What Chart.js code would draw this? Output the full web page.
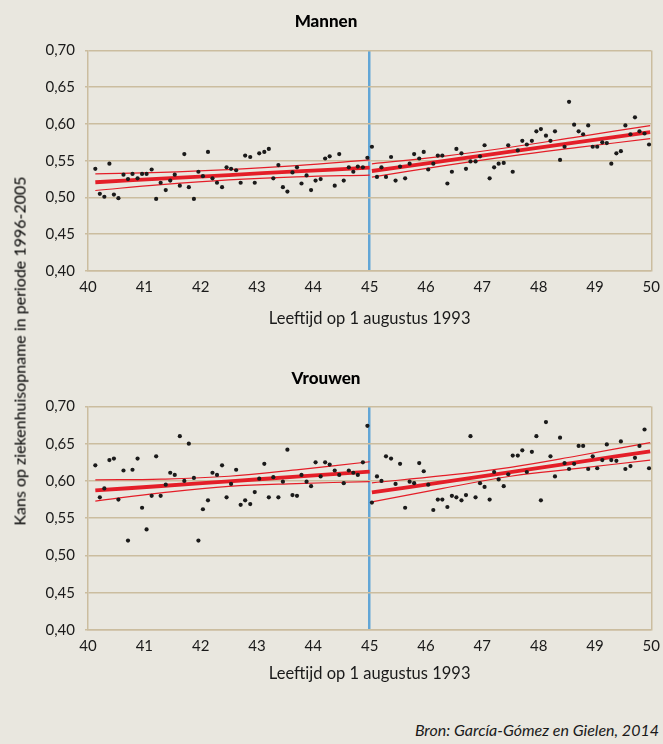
<!DOCTYPE html>
<html>
<head>
<meta charset="utf-8">
<script src="https://cdn.jsdelivr.net/npm/chart.js@4"></script>
<style>
  body { margin: 0; background: #e9e7df; }
  #wrap { position: relative; width: 663px; height: 744px; background: #e9e7df; }
  .box { position: absolute; left: 0; width: 663px; }
  #ytitle {
    position: absolute; left: 19px; top: 351px;
    transform: translate(-50%, -50%) rotate(-90deg);
    white-space: nowrap; font: 16px Lato, "Open Sans", sans-serif; color: #000;
  }
  #source {
    position: absolute; right: 4px; top: 720px;
    font: italic 16px Lato, "Open Sans", sans-serif; color: #1a1a1a;
  }
</style>
</head>
<body>
<div id="wrap">
  <div class="box" style="top:0;height:335px"><canvas id="men"></canvas></div>
  <div class="box" style="top:356px;height:334px"><canvas id="women"></canvas></div>
  <div id="ytitle">Kans op ziekenhuisopname in periode 1996-2005</div>
  <div id="source">Bron: García-Gómez en Gielen, 2014</div>
</div>
<script>
// leeftijd (jaren) per maandcohort
const ages = [
  40.13,40.21,40.29,40.38,40.46,40.54,40.63,40.71,40.79,40.88,40.96,41.04,
  41.13,41.21,41.29,41.38,41.46,41.54,41.63,41.71,41.79,41.88,41.96,42.04,
  42.13,42.21,42.29,42.38,42.46,42.54,42.63,42.71,42.79,42.88,42.96,43.04,
  43.13,43.21,43.29,43.38,43.46,43.54,43.63,43.71,43.79,43.88,43.96,44.04,
  44.13,44.21,44.29,44.38,44.46,44.54,44.63,44.71,44.79,44.88,44.96,45.04,
  45.13,45.21,45.29,45.38,45.46,45.54,45.63,45.71,45.79,45.88,45.96,46.04,
  46.13,46.21,46.29,46.38,46.46,46.54,46.63,46.71,46.79,46.88,46.96,47.04,
  47.13,47.21,47.29,47.38,47.46,47.54,47.63,47.71,47.79,47.88,47.96,48.04,
  48.13,48.21,48.29,48.38,48.46,48.54,48.63,48.71,48.79,48.88,48.96,49.04,
  49.13,49.21,49.29,49.38,49.46,49.54,49.63,49.71,49.79,49.88,49.96
];

const menRates = [
  0.539,0.505,0.501,0.546,0.504,0.499,0.531,0.525,0.532,0.526,0.532,0.532,
  0.538,0.498,0.520,0.510,0.523,0.531,0.516,0.559,0.514,0.498,0.535,0.529,
  0.562,0.526,0.520,0.514,0.541,0.539,0.537,0.520,0.557,0.555,0.520,0.560,
  0.562,0.566,0.526,0.544,0.514,0.508,0.534,0.541,0.519,0.530,0.510,0.523,
  0.525,0.553,0.556,0.516,0.559,0.523,0.541,0.535,0.542,0.541,0.554,0.569,
  0.528,0.541,0.528,0.555,0.523,0.542,0.526,0.546,0.559,0.553,0.562,0.538,
  0.546,0.557,0.557,0.519,0.535,0.566,0.560,0.539,0.549,0.549,0.556,0.571,
  0.526,0.541,0.546,0.547,0.571,0.535,0.564,0.577,0.572,0.577,0.590,0.593,
  0.584,0.577,0.590,0.551,0.569,0.630,0.599,0.590,0.586,0.598,0.569,0.569,
  0.575,0.574,0.546,0.560,0.563,0.598,0.586,0.609,0.590,0.587,0.572
];

const womenRates = [
  0.621,0.578,0.590,0.628,0.630,0.575,0.614,0.520,0.615,0.630,0.564,0.535,
  0.580,0.633,0.580,0.595,0.611,0.608,0.660,0.600,0.650,0.604,0.520,0.562,
  0.574,0.611,0.608,0.621,0.578,0.596,0.615,0.568,0.574,0.569,0.585,0.603,
  0.623,0.578,0.605,0.578,0.599,0.642,0.581,0.580,0.608,0.599,0.593,0.625,
  0.606,0.625,0.622,0.614,0.608,0.597,0.614,0.611,0.608,0.625,0.674,0.571,
  0.606,0.600,0.633,0.630,0.596,0.623,0.564,0.599,0.597,0.624,0.613,0.595,
  0.561,0.575,0.575,0.565,0.580,0.578,0.574,0.581,0.660,0.578,0.597,0.592,
  0.575,0.612,0.602,0.593,0.609,0.634,0.634,0.641,0.612,0.639,0.660,0.574,
  0.679,0.633,0.606,0.658,0.624,0.616,0.623,0.647,0.647,0.616,0.633,0.617,
  0.628,0.649,0.628,0.627,0.653,0.616,0.620,0.631,0.647,0.669,0.617
];

// regressielijnen met betrouwbaarheidsband, voor en na de grens van 45 jaar
const fitAgesBefore = [40.13, 41.3, 42.5, 43.7, 45.0];
const fitAgesAfter = [45.04, 46.3, 47.5, 48.7, 49.98];

const menFitBefore = [0.5207, 0.5256, 0.5305, 0.5354, 0.5405];
const menUpperBefore = [0.5322, 0.5340, 0.5378, 0.5432, 0.5510];
const menLowerBefore = [0.5095, 0.5175, 0.5240, 0.5280, 0.5305];
const menFitAfter = [0.5360, 0.5494, 0.5623, 0.5752, 0.5890];
const menUpperAfter = [0.5458, 0.5560, 0.5683, 0.5825, 0.5978];
const menLowerAfter = [0.5276, 0.5430, 0.5563, 0.5680, 0.5800];

const womenFitBefore = [0.5872, 0.5932, 0.5995, 0.6057, 0.6124];
const womenUpperBefore = [0.6014, 0.6024, 0.6063, 0.6149, 0.6257];
const womenLowerBefore = [0.5730, 0.5840, 0.5927, 0.5965, 0.5991];
const womenFitAfter = [0.5845, 0.5985, 0.6119, 0.6253, 0.6398];
const womenUpperAfter = [0.5975, 0.6070, 0.6183, 0.6338, 0.6515];
const womenLowerAfter = [0.5720, 0.5900, 0.6063, 0.6168, 0.6280];

const cutoffAge = 45;
const yTicks = [0.40, 0.45, 0.50, 0.55, 0.60, 0.65, 0.70];

const red = "#e41e28";
const tan = "#cbbd9f";
const blue = "#62a6d6";
const ink = "#1a1a1a";
const fontFam = "Lato, 'Open Sans', sans-serif";

function pairs(xs, ys) {
  return xs.map(function(x, i) { return { x: x, y: ys[i] }; });
}

function fitLine(xs, ys, width) {
  return {
    type: "line",
    data: pairs(xs, ys),
    borderColor: red,
    borderWidth: width,
    pointRadius: 0,
    tension: 0.4,
    fill: false
  };
}

function makeChart(id, title, rates, fits, titlePad, xAxisHeight) {
  var datasets = [{
    type: "scatter",
    data: pairs(ages, rates),
    backgroundColor: ink,
    borderColor: ink,
    pointRadius: 2.1,
    pointBorderWidth: 0
  }];
  datasets.push(fitLine(fitAgesBefore, fits[0], 3.8));
  datasets.push(fitLine(fitAgesBefore, fits[1], 1.2));
  datasets.push(fitLine(fitAgesBefore, fits[2], 1.2));
  datasets.push(fitLine(fitAgesAfter, fits[3], 3.8));
  datasets.push(fitLine(fitAgesAfter, fits[4], 1.2));
  datasets.push(fitLine(fitAgesAfter, fits[5], 1.2));

  return new Chart(document.getElementById(id), {
    data: { datasets: datasets },
    options: {
      responsive: true,
      maintainAspectRatio: false,
      animation: false,
      layout: { padding: { left: 0, right: 11, top: 0, bottom: 0 } },
      plugins: {
        legend: { display: false },
        tooltip: { enabled: false },
        title: {
          display: true,
          text: title,
          color: "#000",
          font: { family: fontFam, size: 17, weight: "900", lineHeight: 1.2 },
          padding: { top: titlePad[0], bottom: titlePad[1] }
        }
      },
      scales: {
        x: {
          type: "linear",
          min: 40,
          max: 50,
          afterFit: function(s) { s.height = xAxisHeight; },
          ticks: {
            stepSize: 1,
            autoSkip: false,
            maxRotation: 0,
            padding: 3,
            color: ink,
            font: { family: fontFam, size: 15 },
            callback: function(v) { return String(v); }
          },
          grid: {
            color: function(c) {
              if (!c.tick) return "transparent";
              if (c.tick.value === cutoffAge) return blue;
              if (c.tick.value === 50) return tan;
              return "transparent";
            },
            lineWidth: function(c) {
              return c.tick && c.tick.value === cutoffAge ? 2.5 : 1.5;
            },
            tickColor: "transparent",
            tickLength: 4
          },
          border: { color: tan, width: 1.5 },
          title: {
            display: true,
            text: "Leeftijd op 1 augustus 1993",
            color: ink,
            font: { family: fontFam, size: 16.5 },
            padding: { top: 0, bottom: 6 }
          }
        },
        y: {
          min: 0.40,
          max: 0.70,
          afterFit: function(s) { s.width = 88; },
          afterBuildTicks: function(s) {
            s.ticks = yTicks.map(function(v) { return { value: v }; });
          },
          ticks: {
            padding: 10,
            color: ink,
            font: { family: fontFam, size: 15 },
            callback: function(v) { return v.toFixed(2).replace(".", ","); }
          },
          grid: { color: tan, lineWidth: 1.5, tickColor: tan, tickLength: 3 },
          border: { color: tan, width: 1.5 }
        }
      }
    }
  });
}

makeChart("men", "Mannen", menRates,
  [menFitBefore, menUpperBefore, menLowerBefore, menFitAfter, menUpperAfter, menLowerAfter],
  [11, 19], 64);
makeChart("women", "Vrouwen", womenRates,
  [womenFitBefore, womenUpperBefore, womenLowerBefore, womenFitAfter, womenUpperAfter, womenLowerAfter],
  [12, 18], 60);
</script>
</body>
</html>
